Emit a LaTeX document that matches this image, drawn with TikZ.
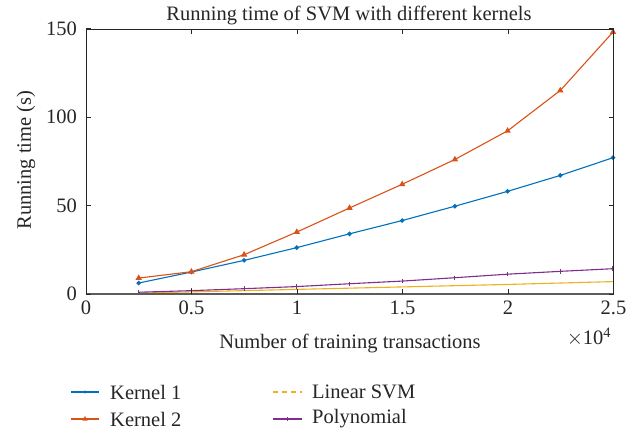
\documentclass[tikz,border=0pt]{standalone}
\usepackage{fontspec}
\setmainfont{Liberation Serif}
\usetikzlibrary{plotmarks}
\definecolor{cA}{RGB}{0,114,189}
\definecolor{cB}{RGB}{217,83,25}
\definecolor{cC}{RGB}{237,177,32}
\definecolor{cD}{RGB}{126,47,142}
\definecolor{axc}{RGB}{38,38,38}
\tikzset{
  lab/.style={font=\fontsize{20.5}{24}\selectfont, text=axc, inner sep=0pt},
  k1/.style={draw=cA, line width=1.1pt},
  k2/.style={draw=cB, line width=1.1pt},
  lin/.style={draw=cC, line width=1.1pt},
  poly/.style={draw=cD, line width=1.1pt},
}
\begin{document}
\begin{tikzpicture}[x=1pt,y=-1pt]
\useasboundingbox (0,0) rectangle (636,430);
\fill[white] (0,0) rectangle (636,430);
% data
\begin{scope}[shift={(86,294)}, x=210.8pt, y=1.77pt]
  \draw[lin] plot coordinates {(0.25,0.5) (0.5,1.2) (0.75,1.9) (1,2.6) (1.25,3.3) (1.5,4.0) (1.75,4.7) (2,5.4) (2.25,6.2) (2.5,7.0)};
  \draw[poly] plot[mark=|, mark size=2.2pt, mark options={draw=cD, solid}] coordinates {(0.25,1) (0.5,1.9) (0.75,3) (1,4.2) (1.25,5.8) (1.5,7.3) (1.75,9.2) (2,11.2) (2.25,12.8) (2.5,14.3)};
  \draw[k1] plot[mark=*, mark size=1.7pt, mark options={fill=cA, draw=cA}] coordinates {(0.25,6.2) (0.5,12.4) (0.75,19) (1,26.2) (1.25,34) (1.5,41.5) (1.75,49.6) (2,58) (2.25,67) (2.5,77)};
  \draw[k2] plot[mark=triangle*, mark size=2.6pt, mark options={fill=cB, draw=cB}] coordinates {(0.25,9) (0.5,12.6) (0.75,22.2) (1,35) (1.25,48.6) (1.5,62) (1.75,76) (2,92.2) (2.25,115) (2.5,148)};
\end{scope}
% axes box
\draw[axc, line width=0.9pt] (86,29) rectangle (613.5,294);
\draw[axc!75, line width=1.8pt] (86,294) -- (613.5,294);
\foreach \i/\t in {0/0,1/0.5,2/1,3/1.5,4/2,5/2.5} {
  \pgfmathsetmacro{\xx}{86+105.5*\i}
  \draw[axc, line width=0.9pt] (\xx,294) -- (\xx,289);
  \draw[axc, line width=0.9pt] (\xx,29) -- (\xx,34);
  \node[lab, anchor=north] (xt\i) at (\xx,301) {\t};
}
\foreach \i/\t in {0/0,1/50,2/100,3/150} {
  \pgfmathsetmacro{\yy}{294-88.5*\i}
  \draw[axc, line width=0.9pt] (86,\yy) -- (91,\yy);
  \draw[axc, line width=0.9pt] (613.5,\yy) -- (608.5,\yy);
  \node[lab, anchor=east] (yt\i) at (77,\yy) {\t};
}
\node[lab] (title) at (349,15) {Running time of SVM with different kernels};
\node[lab] (xlab) at (350,343) {Number of training transactions};
\node[lab] (ylab) at (26,160) [rotate=90] {Running time (s)};
\node[lab] (mult) at (589,337) {$\times$10\textsuperscript{4}};
% legend
\draw[k1] (71,392) -- (99,392);
\fill[cA] (85,392) circle (1.7pt);
\node[lab, anchor=west] (l1) at (110,392) {Kernel 1};
\draw[k2] (71,419) -- (99,419);
\fill[cB] (85,416) -- (87.6,420.5) -- (82.4,420.5) -- cycle;
\node[lab, anchor=west] (l2) at (110,419) {Kernel 2};
\draw[lin, dash pattern=on 5pt off 4pt] (273,392) -- (302,392);
\node[lab, anchor=west] (l3) at (312,392) {Linear SVM};
\draw[poly] (273,419) -- (302,419);
\draw[poly] (287.5,416.8) -- (287.5,421.2);
\node[lab, anchor=west] (l4) at (312,419) {Polynomial};
\end{tikzpicture}
\end{document}
